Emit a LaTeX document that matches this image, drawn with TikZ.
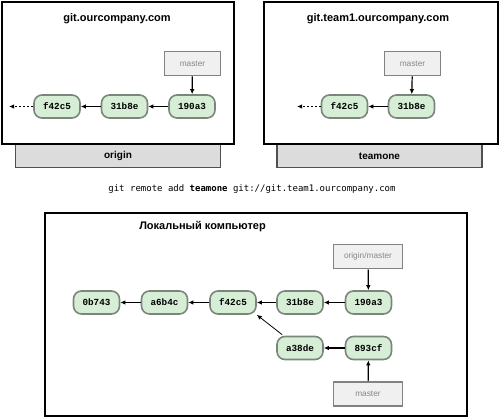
\documentclass[tikz,border=0pt]{standalone}
\usepackage{fontspec}
\setmainfont{Liberation Sans}
\newfontfamily\commitfont{Liberation Mono}
\newfontfamily\cmdfont{DejaVu Sans Mono}
\usetikzlibrary{arrows.meta}

\definecolor{commitfill}{RGB}{214,238,214}
\definecolor{commitline}{RGB}{122,134,122}
\definecolor{reffill}{RGB}{240,240,240}
\definecolor{refline}{RGB}{130,130,130}
\definecolor{reftext}{RGB}{135,135,135}
\definecolor{tagfill}{RGB}{220,220,220}
\definecolor{tagline}{RGB}{80,80,80}

\tikzset{
  hostbox/.style={draw=black, fill=white, line width=2pt, inner sep=0pt},
  hosttag/.style={draw=tagline, fill=tagfill, line width=1.6pt, inner sep=0pt,
    minimum height=23pt, font=\bfseries\fontsize{10}{12}\selectfont},
  hosttitle/.style={font=\bfseries\fontsize{11}{13}\selectfont, inner sep=0pt},
  commit/.style={draw=commitline, fill=commitfill, line width=1.6pt,
    rounded corners=8pt, minimum width=46pt, minimum height=23pt, inner sep=0pt,
    font=\commitfont\bfseries\fontsize{9.3}{11}\selectfont},
  branch/.style={draw=refline, fill=reffill, line width=1.6pt, inner sep=0pt,
    minimum height=24pt, text=reftext, font=\fontsize{8.3}{10}\selectfont},
  parent/.style={draw=black, line width=1.2pt, -{Latex[length=5pt,width=4.5pt]}},
  history/.style={parent, dash pattern=on 2pt off 2pt},
}

\begin{document}
\begin{tikzpicture}[x=1pt,y=-1pt]
\useasboundingbox (0,0) rectangle (499,418);

% --- origin server ---
\node[hosttag, minimum width=205pt] (tagA) at (118,156) {origin};
\node[hostbox, minimum width=232pt, minimum height=142pt] (hostA) at (117.5,72.5) {};
\node[hosttitle] (titleA) at (117,19) {git.ourcompany.com};
\node[branch, minimum width=56pt] (mA) at (192.5,63.5) {master};
\node[commit] (a1) at (57,106.5) {f42c5};
\node[commit] (a2) at (124.5,106.5) {31b8e};
\node[commit] (a3) at (192,106.5) {190a3};
\coordinate (aend) at (9,106.5);
\draw[parent] (mA) -- (a3);
\draw[parent] (a3) -- (a2);
\draw[parent] (a2) -- (a1);
\draw[history] (a1) -- (aend);

% --- teamone server ---
\node[hosttag, minimum width=205pt] (tagB) at (379.5,156) {teamone};
\node[hostbox, minimum width=234pt, minimum height=142pt] (hostB) at (380.5,72.5) {};
\node[hosttitle] (titleB) at (378,19) {git.team1.ourcompany.com};
\node[branch, minimum width=56pt] (mB) at (412.5,63.5) {master};
\node[commit] (b1) at (344.5,106.5) {f42c5};
\node[commit] (b2) at (411.5,106.5) {31b8e};
\coordinate (bend) at (297,106.5);
\draw[parent] (mB) -- (b2);
\draw[parent] (b2) -- (b1);
\draw[history] (b1) -- (bend);

% --- command line ---
\node[font=\cmdfont\fontsize{9}{11}\selectfont, inner sep=0pt] (cmd) at (252,189)
  {git remote add \textbf{teamone} git://git.team1.ourcompany.com};

% --- local machine ---
\node[hostbox, minimum width=422pt, minimum height=203pt] (local) at (255.5,314) {};
\node[hosttitle] (titleL) at (202.5,227) {Локальный компьютер};
\node[branch, minimum width=69pt] (om) at (368,256.5) {origin/master};
\node[commit] (c0) at (96.5,302.5) {0b743};
\node[commit] (c1) at (164.5,302.5) {a6b4c};
\node[commit] (c2) at (233,302.5) {f42c5};
\node[commit] (c3) at (300,302.5) {31b8e};
\node[commit] (c4) at (368.5,302.5) {190a3};
\node[commit] (d1) at (300,348) {a38de};
\node[commit] (d2) at (368.5,348) {893cf};
\node[branch, minimum width=69pt] (ml) at (368,394) {master};
\draw[parent] (om) -- (c4);
\draw[parent] (c4) -- (c3);
\draw[parent] (c3) -- (c2);
\draw[parent] (c2) -- (c1);
\draw[parent] (c1) -- (c0);
\draw[parent] (d2) -- (d1);
\draw[parent] (ml) -- (d2);
\draw[parent, line width=0.8pt] (d1.north west) ++(6pt,1pt) coordinate (dstart) -- (c2.south east);
\end{tikzpicture}
\end{document}
